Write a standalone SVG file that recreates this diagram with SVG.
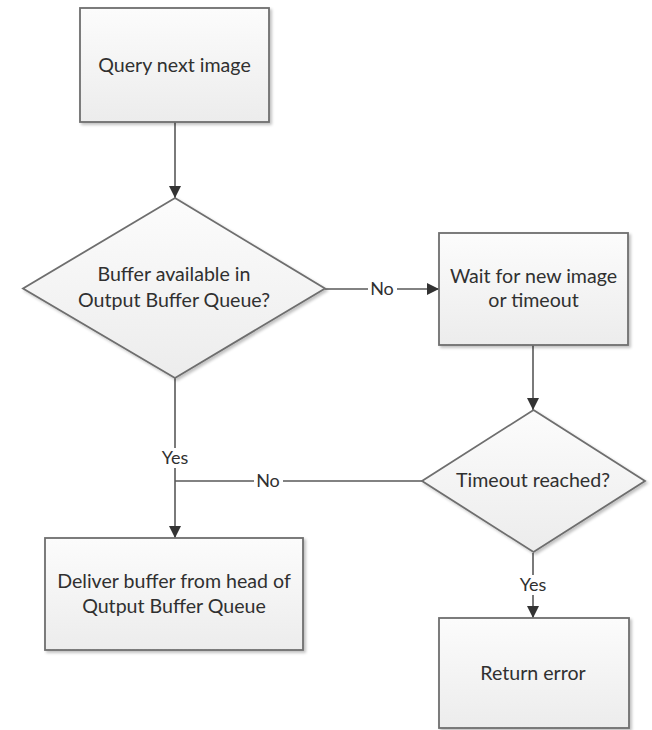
<svg xmlns="http://www.w3.org/2000/svg" width="652" height="730" viewBox="0 0 652 730">
  <style>
    .shape { fill: url(#fillGrad); stroke: #6e6e6e; stroke-width: 1.8; filter: url(#shadow); }
    .label { font-family: Lato, "Open Sans", "Liberation Sans", sans-serif; font-size: 19.6px; fill: #303030; text-anchor: middle; }
    .edge { fill: none; stroke: #595959; stroke-width: 1.6; }
    .tag { font-family: Lato, "Open Sans", "Liberation Sans", sans-serif; font-size: 18px; fill: #303030; text-anchor: middle; }
    .tagbg { fill: #ffffff; }
  </style>
  <defs>
    <linearGradient id="fillGrad" x1="0" y1="0" x2="0" y2="1">
      <stop offset="0" stop-color="#fcfcfc"/>
      <stop offset="1" stop-color="#ececec"/>
    </linearGradient>
    <filter id="shadow" x="-10%" y="-10%" width="125%" height="125%">
      <feGaussianBlur in="SourceAlpha" stdDeviation="1.5"/>
      <feOffset dx="2" dy="2" result="blur"/>
      <feComponentTransfer><feFuncA type="linear" slope="0.25"/></feComponentTransfer>
      <feMerge><feMergeNode/><feMergeNode in="SourceGraphic"/></feMerge>
    </filter>
    <marker id="arrow" viewBox="0 0 12 12" refX="12" refY="6" markerWidth="12" markerHeight="12" markerUnits="userSpaceOnUse" orient="auto">
      <path d="M0,0 L12,6 L0,12 Z" fill="#333333"/>
    </marker>
  </defs>

  <g id="edges">
    <path class="edge" d="M175,122 V198" marker-end="url(#arrow)"/>
    <path class="edge" d="M325,289 H439" marker-end="url(#arrow)"/>
    <path class="edge" d="M175,378 V538" marker-end="url(#arrow)"/>
    <path class="edge" d="M533,345 V410" marker-end="url(#arrow)"/>
    <path class="edge" d="M422,481 H175"/>
    <path class="edge" d="M533,553 V618" marker-end="url(#arrow)"/>

    <rect class="tagbg" x="368" y="279" width="29" height="20"/>
    <text class="tag" x="382" y="295">No</text>
    <rect class="tagbg" x="159" y="448" width="33" height="20"/>
    <text class="tag" x="175" y="464">Yes</text>
    <rect class="tagbg" x="254" y="471" width="29" height="20"/>
    <text class="tag" x="268" y="487">No</text>
    <rect class="tagbg" x="517" y="575" width="33" height="20"/>
    <text class="tag" x="533" y="591">Yes</text>
  </g>

  <g id="query-next-image">
    <rect class="shape" x="80" y="8" width="189" height="114"/>
    <text class="label" x="174.5" y="72">Query next image</text>
  </g>

  <g id="buffer-available">
    <polygon class="shape" points="175,198 325,288.5 175,378 23,288.5"/>
    <text class="label" x="174" y="281">Buffer available in</text>
    <text class="label" x="174" y="307">Output Buffer Queue?</text>
  </g>

  <g id="wait-for-image">
    <rect class="shape" x="439" y="233" width="189" height="112"/>
    <text class="label" x="533.5" y="283">Wait for new image</text>
    <text class="label" x="533.5" y="307">or timeout</text>
  </g>

  <g id="timeout-reached">
    <polygon class="shape" points="533.5,410 645,481 533.5,552 422,481"/>
    <text class="label" x="533" y="487">Timeout reached?</text>
  </g>

  <g id="deliver-buffer">
    <rect class="shape" x="45" y="538" width="258" height="112"/>
    <text class="label" x="174" y="588">Deliver buffer from head of</text>
    <text class="label" x="174" y="613">Qutput Buffer Queue</text>
  </g>

  <g id="return-error">
    <rect class="shape" x="439" y="618" width="190" height="110"/>
    <text class="label" x="533" y="680">Return error</text>
  </g>
</svg>
